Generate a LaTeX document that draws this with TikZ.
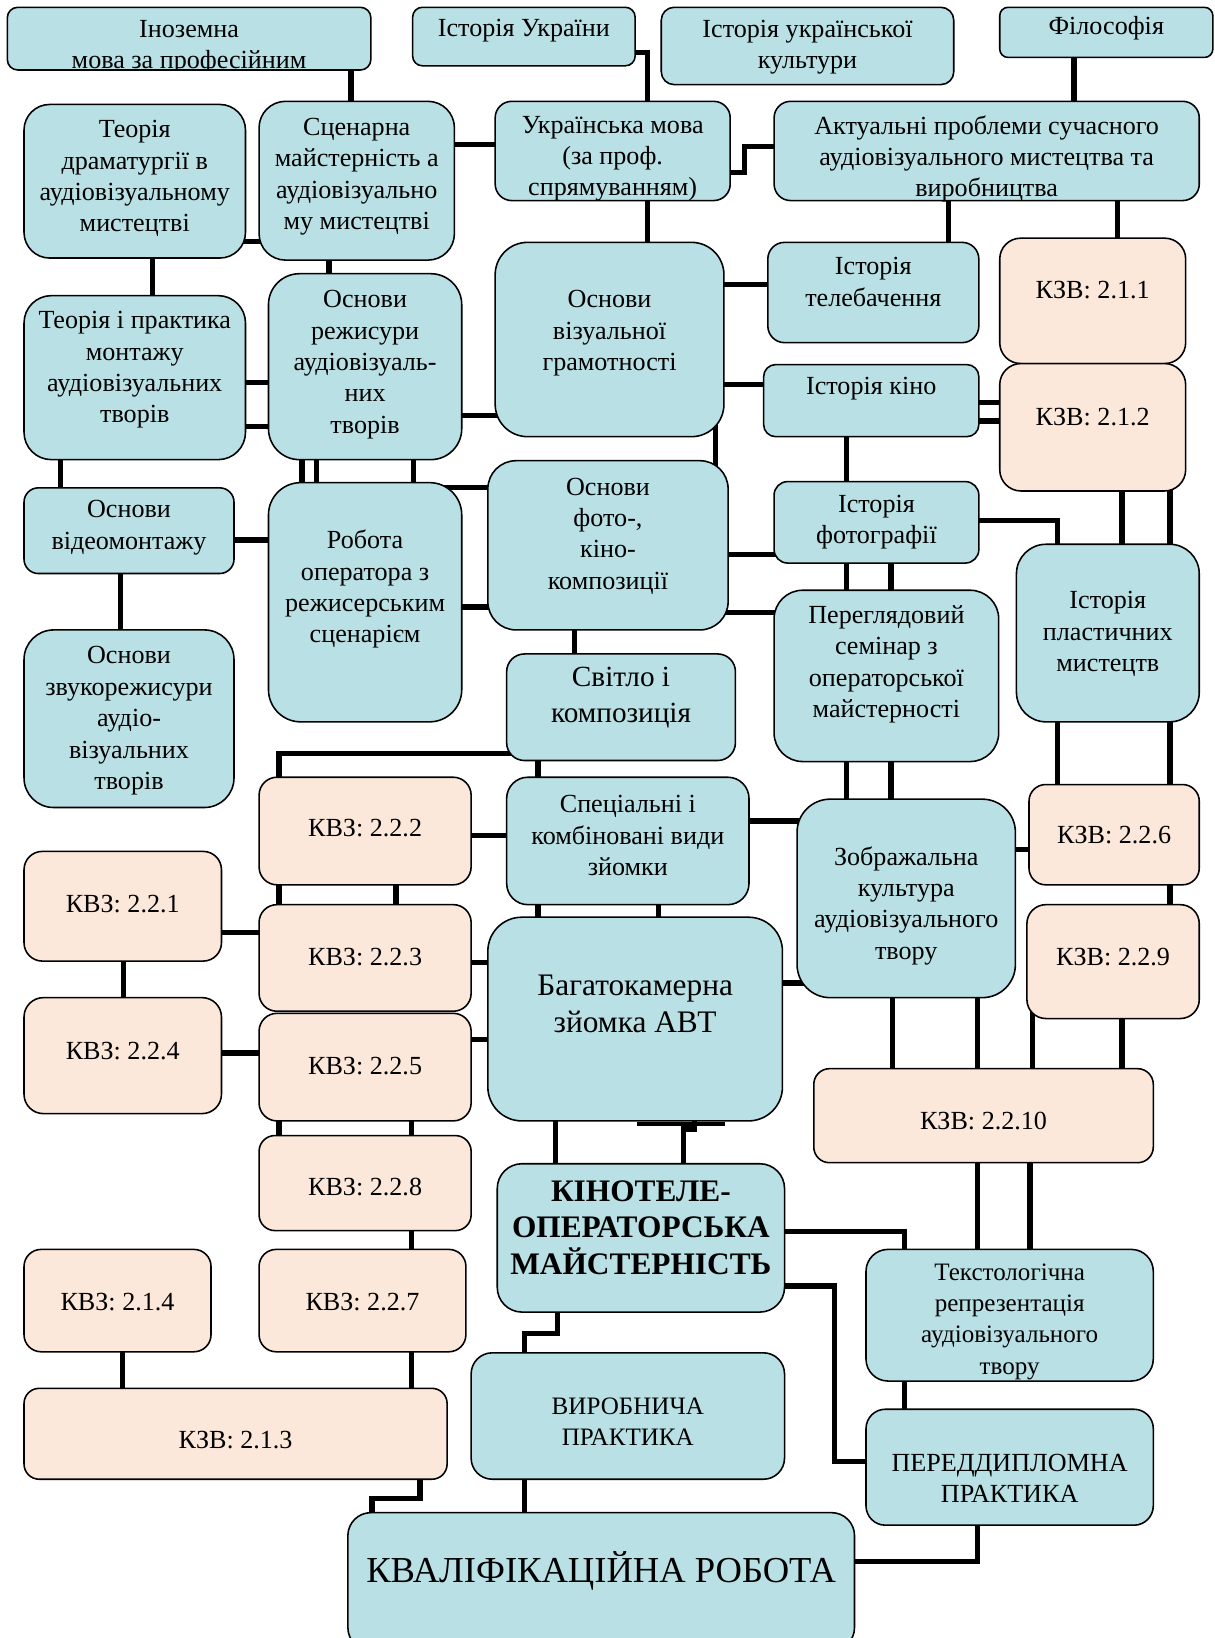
\documentclass[tikz,border=0pt]{standalone}
\usepackage{fontspec}
\setmainfont{Liberation Serif}
\pgfdeclarelayer{bg}
\pgfsetlayers{bg,main}
\definecolor{boxteal}{RGB}{185,224,228}
\definecolor{boxpeach}{RGB}{252,232,218}
\newcommand\bx[6]{%
  \pgfmathsetmacro\bxw{#5-#3}%
  \pgfmathsetmacro\bxh{#6-#4}%
  \pgfmathsetmacro\bxr{0.1667*min(\bxw,\bxh)}%
  \node[#2, rounded corners=\bxr pt, minimum width=\bxw pt, minimum height=\bxh pt] (#1) at ({(#3+#5)/2},{(#4+#6)/2}) {};}
\newcommand\tx[4][]{\node[txt,#1] (#2-t) at (#2.center |- 0,#3) {#4};}
\begin{document}
\begin{tikzpicture}[x=1pt,y=-1pt,
  tb/.style={draw=black, line width=1.5pt, fill=boxteal, inner sep=0pt},
  pb/.style={draw=black, line width=1.5pt, fill=boxpeach, inner sep=0pt},
  txt/.style={inner sep=0pt, align=center, yshift=-3pt, font=\fontsize{25}{30}\selectfont},
  mid/.style={font=\fontsize{28}{34}\selectfont},
  big/.style={font=\fontsize{30}{35}\selectfont},
  bigb/.style={font=\fontsize{30}{35}\selectfont\bfseries},
  small/.style={font=\fontsize{24}{30}\selectfont},
  huge/.style={font=\fontsize{35}{40}\selectfont},
  conn/.style={line width=5pt, draw=black}]
\useasboundingbox (0,0) rectangle (1163,1568);
% boxes
\bx{inoz}{tb}{7}{7}{355}{67}
\bx{istua}{tb}{395}{7}{608}{63}
\bx{istuk}{tb}{633}{7}{913}{81}
\bx{filos}{tb}{957}{7}{1161}{55}
\bx{teordr}{tb}{23}{100}{235}{247}
\bx{scen}{tb}{248}{97}{435}{249}
\bx{ukrmova}{tb}{474}{97}{699}{192}
\bx{aktual}{tb}{741}{97}{1148}{192}
\bx{teorprak}{tb}{23}{283}{235}{440}
\bx{osnrezh}{tb}{257}{262}{442}{440}
\bx{osnviz}{tb}{474}{232}{693}{418}
\bx{isttel}{tb}{735}{232}{937}{328}
\bx{kzv211}{pb}{957}{228}{1135}{348}
\bx{istkino}{tb}{731}{349}{937}{418}
\bx{kzv212}{pb}{957}{348}{1135}{470}
\bx{osnvid}{tb}{23}{467}{224}{549}
\bx{robota}{tb}{257}{462}{442}{691}
\bx{osnfoto}{tb}{467}{441}{697}{603}
\bx{istfoto}{tb}{741}{461}{937}{539}
\bx{istplast}{tb}{973}{521}{1148}{691}
\bx{pereg}{tb}{741}{565}{956}{729}
\bx{osnzvuk}{tb}{23}{603}{224}{773}
\bx{svitlo}{tb}{485}{626}{704}{728}
\bx{kvz222}{pb}{248}{744}{451}{847}
\bx{spec}{tb}{485}{744}{717}{866}
\bx{zobr}{tb}{763}{765}{972}{955}
\bx{kzv226}{pb}{985}{751}{1148}{847}
\bx{kvz221}{pb}{23}{815}{212}{920}
\bx{kvz223}{pb}{248}{866}{451}{968}
\bx{bagat}{tb}{467}{878}{749}{1073}
\bx{kzv229}{pb}{983}{866}{1148}{975}
\bx{kvz224}{pb}{23}{955}{212}{1066}
\bx{kvz225}{pb}{248}{970}{451}{1073}
\bx{kzv2210}{pb}{779}{1023}{1104}{1113}
\bx{kvz228}{pb}{248}{1087}{451}{1178}
\bx{kino}{tb}{476}{1114}{751}{1256}
\bx{kvz214}{pb}{23}{1196}{202}{1294}
\bx{kvz227}{pb}{248}{1196}{446}{1294}
\bx{tekst}{tb}{829}{1196}{1104}{1322}
\bx{kzv213}{pb}{23}{1329}{428}{1416}
\bx{vyrob}{tb}{451}{1295}{751}{1416}
\bx{pered}{tb}{829}{1349}{1104}{1460}
\bx{kval}{tb}{333}{1448}{818}{1580}
% texts
\begin{scope}
\clip (inoz.south west) rectangle (inoz.north east);
\tx{inoz}{42}{Іноземна\\мова за професійним}
\end{scope}
\tx{istua}{26}{Історія України}
\tx{istuk}{42}{Історія української\\культури}
\tx{filos}{24}{Філософія}
\tx{teordr}{168}{Теорія\\драматургії в\\аудіовізуальному\\мистецтві}
\tx{scen}{166}{Сценарна\\майстерність а\\аудіовізуально\\му мистецтві}
\tx{ukrmova}{149}{Українська мова\\(за проф.\\спрямуванням)}
\tx{aktual}{149}{Актуальні проблеми сучасного\\аудіовізуального мистецтва та\\виробництва}
\tx{teorprak}{351}{Теорія і практика\\монтажу\\аудіовізуальних\\творів}
\tx{osnrezh}{346}{Основи\\режисури\\аудіовізуаль-\\них\\творів}
\tx{osnviz}{316}{Основи\\візуальної\\грамотності}
\tx{isttel}{267}{Історія\\телебачення}
\tx{kzv211}{275}{КЗВ: 2.1.1}
\tx{istkino}{369}{Історія кіно}
\tx{kzv212}{396}{КЗВ: 2.1.2}
\tx{osnvid}{502}{Основи\\відеомонтажу}
\tx{robota}{561}{Робота\\оператора з\\режисерським\\сценарієм}
\tx{osnfoto}{510}{Основи\\фото-,\\кіно-\\композиції}
\tx{istfoto}{497}{Історія\\фотографії}
\tx{istplast}{604}{Історія\\пластичних\\мистецтв}
\tx{pereg}{633}{Переглядовий\\семінар з\\операторської\\майстерності}
\tx{osnzvuk}{687}{Основи\\звукорежисури\\аудіо-\\візуальних\\творів}
\tx[mid]{svitlo}{665}{Світло і\\композиція}
\tx{kvz222}{790}{КВЗ: 2.2.2}
\tx{spec}{797}{Спеціальні і\\комбіновані види\\зйомки}
\tx{zobr}{864}{Зображальна\\культура\\аудіовізуального\\твору}
\tx{kzv226}{796}{КЗВ: 2.2.6}
\tx{kvz221}{862}{КВЗ: 2.2.1}
\tx{kvz223}{913}{КВЗ: 2.2.3}
\tx[big]{bagat}{958}{Багатокамерна\\зйомка АВТ}
\tx{kzv229}{913}{КЗВ: 2.2.9}
\tx{kvz224}{1003}{КВЗ: 2.2.4}
\tx{kvz225}{1017}{КВЗ: 2.2.5}
\tx{kzv2210}{1070}{КЗВ: 2.2.10}
\tx{kvz228}{1133}{КВЗ: 2.2.8}
\tx[bigb]{kino}{1172}{КІНОТЕЛЕ-\\ОПЕРАТОРСЬКА\\МАЙСТЕРНІСТЬ}
\tx{kvz214}{1243}{КВЗ: 2.1.4}
\tx{kvz227}{1243}{КВЗ: 2.2.7}
\begin{scope}
\clip (tekst.south west) rectangle (tekst.north east);
\tx[small]{tekst}{1262}{Текстологічна\\репрезентація\\аудіовізуального\\твору}
\end{scope}
\tx{kzv213}{1375}{КЗВ: 2.1.3}
\tx[small]{vyrob}{1358}{ВИРОБНИЧА\\ПРАКТИКА}
\tx{pered}{1412}{ПЕРЕДДИПЛОМНА\\ПРАКТИКА}
\tx[huge]{kval}{1501}{КВАЛІФІКАЦІЙНА РОБОТА}
% connectors
\begin{pgfonlayer}{bg}
\fill[white] (0,0) rectangle (1163,1568);
\draw[conn] (inoz.center -| 336,0) -- (scen.center -| 336,0);
\draw[conn] (istua.center |- 0,50) -| (ukrmova.center -| 620,0);
\draw[conn] (scen.center |- 0,138) -- (ukrmova.center |- 0,138);
\draw[conn] (ukrmova.center |- 0,165) -- (ukrmova.east |- 0,165) -- ++(13,0) |- (aktual.center |- 0,140);
\draw[conn] (filos.center -| 1028,0) -- (aktual.center -| 1028,0);
\draw[conn] (aktual.center -| 908,0) -- (isttel.center -| 908,0);
\draw[conn] (aktual.center -| 1070,0) -- (kzv211.center -| 1070,0);
\draw[conn] (ukrmova.center -| 620,0) -- (osnviz.center -| 620,0);
\draw[conn] (teordr.center |- 0,231) -- (scen.center |- 0,231);
\draw[conn] (teordr.center -| 146,0) -- (teorprak.center -| 146,0);
\draw[conn] (scen.center -| 315,0) -- (osnrezh.center -| 315,0);
\draw[conn] (teorprak.center |- 0,366) -- (osnrezh.center |- 0,366);
\draw[conn] (teorprak.center |- 0,408) -- (osnrezh.center |- 0,408);
\draw[conn] (osnrezh.center |- 0,398) -- (osnviz.center |- 0,398);
\draw[conn] (osnviz.center |- 0,272) -- (isttel.center |- 0,272);
\draw[conn] (osnviz.center |- 0,368) -- (istkino.center |- 0,368);
\draw[conn] (istkino.center |- 0,385) -- (kzv212.center |- 0,385);
\draw[conn] (istkino.center |- 0,403) -- (kzv212.center |- 0,403);
\draw[conn] (osnviz.center -| 685,0) -- (osnfoto.center -| 685,0);
\draw[conn] (teorprak.center -| 58,0) -- (osnvid.center -| 58,0);
\draw[conn] (osnrezh.center -| 289,0) -- (robota.center -| 289,0);
\draw[conn] (osnrezh.center -| 303,0) -- (robota.center -| 303,0);
\draw[conn] (osnrezh.center -| 396,0) -- (robota.center -| 396,0);
\draw[conn] (robota.center |- 0,467) -- (osnfoto.center |- 0,467);
\draw[conn] (robota.center |- 0,581) -- (osnfoto.center |- 0,581);
\draw[conn] (osnvid.center |- 0,517) -- (robota.center |- 0,517);
\draw[conn] (osnvid.center -| 115,0) -- (osnzvuk.center -| 115,0);
\draw[conn] (osnfoto.center |- 0,531) -- (istfoto.center |- 0,531);
\draw[conn] (osnfoto.center |- 0,586) -- (pereg.center |- 0,586);
\draw[conn] (istkino.center -| 810,0) -- (istfoto.center -| 810,0);
\draw[conn] (istfoto.center |- 0,498) -| (istplast.center -| 1012,0);
\draw[conn] (kzv212.center -| 1074,0) -- (istplast.center -| 1074,0);
\draw[conn] (kzv212.center -| 1120,0) -- (istplast.center -| 1120,0);
\draw[conn] (istfoto.center -| 810,0) -- (pereg.center -| 810,0);
\draw[conn] (istfoto.center -| 853,0) -- (pereg.center -| 853,0);
\draw[conn] (osnfoto.center -| 550,0) -- (svitlo.center -| 550,0);
\draw[conn] (svitlo.center |- 0,721) -| (kvz222.center -| 267,0);
\draw[conn] (svitlo.center -| 515,0) -- (spec.center -| 515,0);
\draw[conn] (kvz222.center |- 0,800) -- (spec.center |- 0,800);
\draw[conn] (spec.center |- 0,786) -- (zobr.center |- 0,786);
\draw[conn] (pereg.center -| 810,0) -- (zobr.center -| 810,0);
\draw[conn] (pereg.center -| 853,0) -- (zobr.center -| 853,0);
\draw[conn] (istplast.center -| 1012,0) -- (kzv226.center -| 1012,0);
\draw[conn] (istplast.center -| 1120,0) -- (kzv226.center -| 1120,0);
\draw[conn] (zobr.center |- 0,813) -- (kzv226.center |- 0,813);
\draw[conn] (kzv226.center -| 1120,0) -- (kzv229.center -| 1120,0);
\draw[conn] (kvz222.center -| 267,0) -- (kvz223.center -| 267,0);
\draw[conn] (kvz222.center -| 379,0) -- (kvz223.center -| 379,0);
\draw[conn] (kvz221.center |- 0,893) -- (kvz223.center |- 0,893);
\draw[conn] (kvz221.center -| 118,0) -- (kvz224.center -| 118,0);
\draw[conn] (kvz224.center |- 0,1008) -- (kvz225.center |- 0,1008);
\draw[conn] (kvz223.center |- 0,921) -- (bagat.center |- 0,921);
\draw[conn] (kvz225.center |- 0,995) -- (bagat.center |- 0,995);
\draw[conn] (spec.center -| 515,0) -- (bagat.center -| 515,0);
\draw[conn] (spec.center -| 630,0) -- (bagat.center -| 630,0);
\draw[conn] (zobr.center |- 0,941) -- (bagat.center |- 0,941);
\draw[conn] (zobr.center -| 854,0) -- (kzv2210.center -| 854,0);
\draw[conn] (zobr.center -| 936,0) -- (kzv2210.center -| 936,0);
\draw[conn] (kzv229.center -| 988,0) -- (kzv2210.center -| 988,0);
\draw[conn] (kzv229.center -| 1074,0) -- (kzv2210.center -| 1074,0);
\draw[conn] (kzv2210.center -| 936,0) -- (tekst.center -| 936,0);
\draw[conn] (kzv2210.center -| 986,0) -- (tekst.center -| 986,0);
\draw[conn] (bagat.center -| 532,0) -- (kino.center -| 532,0);
\draw[conn] (bagat.center -| 665,0) -- (bagat.south -| 665,0) -- ++(0,7) -| (kino.center -| 654,0);
\draw[conn] (kino.center |- 0,1179) -| (tekst.center -| 866,0);
\draw[conn] (kino.center |- 0,1231) -- (kino.east |- 0,1231) -- ++(47,0) |- (pered.center |- 0,1399);
\draw[conn] (tekst.center -| 866,0) -- (pered.center -| 866,0);
\draw[conn] (kino.center -| 534,0) -- (kino.south -| 534,0) -- ++(0,20) -| (vyrob.center -| 502,0);
\draw[conn] (kvz225.center -| 267,0) -- (kvz228.center -| 267,0);
\draw[conn] (kvz225.center -| 394,0) -- (kvz228.center -| 394,0);
\draw[conn] (kvz228.center -| 394,0) -- (kvz227.center -| 394,0);
\draw[conn] (kvz214.center -| 117,0) -- (kzv213.center -| 117,0);
\draw[conn] (kvz227.center -| 394,0) -- (kzv213.center -| 394,0);
\draw[conn] (kzv213.center -| 402,0) -- (kzv213.south -| 402,0) -- ++(0,18) -| (kval.center -| 356,0);
\draw[conn] (vyrob.center -| 502,0) -- (kval.center -| 502,0);
\draw[conn] (pered.center -| 936,0) |- (kval.center |- 0,1495);
\end{pgfonlayer}
\draw[line width=4pt] (bagat.south -| 610,0) ++(0,2) -- ++(84,0);
\end{tikzpicture}
\end{document}
